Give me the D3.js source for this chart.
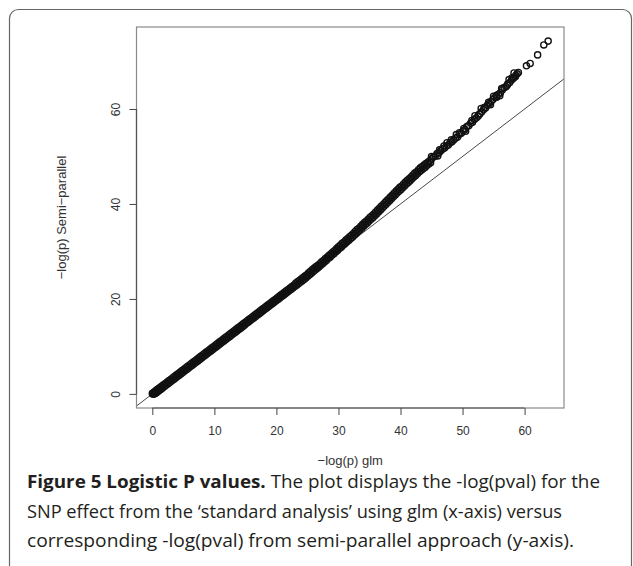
<!DOCTYPE html>
<html><head><meta charset="utf-8">
<script src="https://cdn.jsdelivr.net/npm/d3@7"></script>
<style>body{margin:0;background:#fff}svg{display:block}</style>
</head><body>
<svg id="c" width="633" height="566"></svg>
<script>
// -log(p) from glm (x) and semi-parallel approach (y)
const glm = [
 0,0.1,0.2,0.35,0.5,0.7,0.9,1.1,1.3,1.5,1.8,2.1,2.4,2.7,3.0,3.3,3.6,3.9,4.2,4.5,4.8,5.1,5.4,5.7,6.0,6.3,6.6,6.9,
 7.2,7.5,7.8,8.1,8.4,8.7,9.0,9.3,9.6,9.9,10.2,10.5,10.8,11.1,11.4,11.7,12.0,12.3,12.6,12.9,13.2,13.5,13.8,14.1,
 14.4,14.7,15.0,15.3,15.6,15.9,16.2,16.5,16.8,17.1,17.4,17.7,18.0,18.3,18.6,18.9,19.2,19.5,19.8,20.1,20.4,20.7,
 21.0,21.3,21.6,21.9,22.2,22.5,22.8,23.1,23.4,23.7,24.0,24.3,24.6,24.9,
 25.2,25.5,25.8,26.1,26.4,26.7,27.0,27.3,27.6,27.9,28.2,28.5,28.8,29.1,29.4,29.7,30.0,30.3,30.6,30.9,31.2,31.5,
 31.8,32.1,32.4,32.7,33.0,33.3,33.6,33.9,34.2,34.5,34.8,35.1,35.4,35.7,36.0,36.3,36.6,36.9,37.2,37.5,37.8,38.1,
 38.4,38.7,39.0,39.3,39.6,39.9,40.2,40.5,40.8,41.1,41.4,41.7,42.0,42.3,42.6,42.9,43.2,43.5,43.8,44.1,44.4,44.7,45.0,
 45.3,45.6,45.9,46.2,46.5,46.8,47.1,47.4,47.7,48.0,48.3,48.6,48.9,49.2,49.5,49.8,50.1,50.4,50.7,51.0,51.3,51.6,
 51.9,52.2,52.5,52.8,53.1,53.4,53.7,54.0,54.3,54.6,54.9,55.2,55.5,55.8,56.1,56.4,56.7,57.0,57.3,57.6,57.9,58.2,
 58.5,58.8,59.0,
 53.0,54.5,55.0,56.0,57.5,58.3,52.0,50.5,49.0,47.5,46.0,
 45.0,46.3,47.0,48.2,49.5,50.2,51.5,52.7,53.5,54.2,55.5,56.3,57.2,58.0,58.6,
 60.3,60.9,62.1,63.1,63.8,
 0.05,0.15,0.3,0.45,0.6,0.8,1.0,1.2,1.4,1.65,1.95,2.25,2.55,2.85,3.15,3.45,3.75,4.05,4.35,4.65,4.95,5.25,5.55,5.85,
 6.15,6.45,6.75,7.05,7.35,7.65,7.95,8.25,8.55,8.85,9.15,9.45,9.75,10.05,10.35,10.65,10.95,11.25,11.55,11.85,12.15,
 12.45,12.75,13.05,13.35,13.65,13.95,14.25,14.55,14.85,15.15,15.45,15.75,16.05,16.35,16.65,16.95,17.25,17.55,17.85,
 18.15,18.45,18.75,19.05,19.35,19.65,19.95,20.25,20.55,20.85,21.15,21.45,21.75,22.05,22.35,22.65,22.95,23.25,23.55,
 23.85,24.15,24.45,24.75,25.05,25.35,25.65,25.95,26.25,26.55,26.85,27.15,27.45,27.75,28.05,28.35,28.65,28.95,29.25,
 29.55,29.85,30.15,30.45,30.75,31.05,31.35,31.65,31.95,32.25,32.55,32.85,33.15,33.45,33.75,34.05,34.35,34.65,34.95,
 35.25,35.55,35.85,36.15,36.45,36.75,37.05,37.35,37.65,37.95,38.25,38.55,38.85,39.15,39.45,39.75,40.05,40.35,40.65,
 40.95,41.25,41.55,41.85,42.15,42.45,42.75,43.05,43.35,43.65,43.95,44.25,44.55,44.85
];
const semi = [
 0.1,0.2,0.3,0.4,0.6,0.8,1.0,1.2,1.4,1.6,1.9,2.2,2.5,2.8,3.1,3.4,3.7,4.0,4.3,4.6,4.9,5.2,5.5,5.8,6.1,6.4,6.7,7.0,
 7.3,7.6,7.9,8.2,8.5,8.8,9.1,9.4,9.7,10.0,10.3,10.6,10.9,11.2,11.5,11.8,12.1,12.4,12.7,13.0,13.3,13.6,13.9,14.2,
 14.5,14.8,15.1,15.4,15.7,16.0,16.3,16.6,16.9,17.2,17.5,17.8,18.1,18.4,18.7,19.0,19.3,19.6,19.9,20.2,20.5,20.8,
 21.1,21.4,21.7,22.0,22.3,22.6,22.9,23.3,23.6,23.9,24.2,24.5,24.8,25.1,
 25.5,25.8,26.2,26.5,26.8,27.1,27.4,27.8,28.1,28.5,28.8,29.2,29.5,29.9,30.2,30.6,31.0,31.3,31.7,32.0,32.4,32.7,
 33.1,33.4,33.8,34.2,34.6,34.9,35.3,35.7,36.1,36.4,36.8,37.2,37.5,37.9,38.3,38.7,39.1,39.5,39.9,40.3,40.7,41.1,
 41.5,41.9,42.3,42.7,43.1,43.5,43.8,44.2,44.6,45.0,45.3,45.7,46.1,46.5,46.8,47.2,47.6,47.9,48.2,48.5,48.8,49.1,49.5,
 49.9,50.1,50.6,50.8,51.2,51.6,51.8,52.2,52.4,52.9,53.1,53.5,53.9,54.1,54.7,54.9,55.4,55.7,56.3,56.5,57.0,57.2,
 57.8,58.1,58.5,59.0,59.4,59.9,60.2,60.8,61.1,61.6,62.0,62.4,62.9,63.1,63.4,64.0,64.5,64.7,65.3,65.6,66.1,66.5,
 66.8,67.4,67.7,
 60.1,60.9,62.7,62.8,66.2,67.6,58.6,55.3,54.6,52.9,50.1,
 50.0,51.4,52.2,53.5,55.0,55.9,57.6,58.9,60.3,61.4,62.5,64.3,65.0,66.6,67.1,
 69.1,69.6,71.4,73.5,74.3,
 0.0,0.0,0.0,0.1,0.2,0.4,0.6,0.8,1.0,1.25,1.55,1.85,2.15,2.45,2.75,3.05,3.35,3.65,3.95,4.25,4.55,4.85,5.15,5.45,
 5.75,6.05,6.35,6.65,6.95,7.25,7.55,7.85,8.15,8.45,8.75,9.05,9.35,9.65,9.95,10.25,10.55,10.85,11.15,11.45,11.75,
 12.05,12.35,12.65,12.95,13.25,13.55,13.85,14.15,14.45,14.8,15.1,15.4,15.7,16.0,16.3,16.6,16.9,17.2,17.5,
 17.8,18.1,18.4,18.7,19.0,19.3,19.6,19.9,20.2,20.5,20.8,21.1,21.4,21.7,22.0,22.3,22.6,22.9,23.2,
 23.5,23.8,24.1,24.4,24.8,25.1,25.4,25.8,26.1,26.4,26.7,27.1,27.4,27.8,28.1,28.5,28.8,29.2,29.5,
 29.9,30.2,30.6,30.9,31.3,31.6,32.0,32.3,32.7,33.0,33.4,33.8,34.2,34.5,34.9,35.3,35.7,36.0,36.4,
 36.8,37.1,37.5,37.9,38.3,38.7,39.1,39.5,39.9,40.3,40.7,41.1,41.5,41.9,42.3,42.7,43.0,43.4,43.8,
 44.2,44.5,44.9,45.3,45.7,46.0,46.4,46.8,47.1,47.4,47.7,48.1,48.4,48.7
];
const xTicks = [0,10,20,30,40,50,60];
const yTicks = [0,20,40,60];
const xTitle = "\u2212log(p) glm";
const yTitle = "\u2212log(p) Semi\u2212parallel";
const caption = [
  [{b:true,t:"Figure 5 Logistic P values."},{b:false,t:" The plot displays the -log(pval) for the"}],
  [{b:false,t:"SNP effect from the \u2018standard analysis\u2019 using glm (x-axis) versus"}],
  [{b:false,t:"corresponding -log(pval) from semi-parallel approach (y-axis)."}]
];
const captionWidth = [573, 535, 547];

const svg = d3.select("#c");
const L = 136.5, R = 564, T = 27, B = 408;
const FONT = "Liberation Sans, Arial, sans-serif";

// outer rounded frame
svg.append("rect").attr("x",9.5).attr("y",9.5).attr("width",622).attr("height",620)
  .attr("rx",9).attr("fill","none").attr("stroke","#666").attr("stroke-width",1.2);

const pts = glm.map((g,i)=>({x:g,y:semi[i]}));
const xe = d3.extent(glm), ye = d3.extent(semi);
const px = (xe[1]-xe[0])*0.04, py = (ye[1]-ye[0])*0.04;
const x = d3.scaleLinear().domain([xe[0]-px, xe[1]+px]).range([L,R]);
const y = d3.scaleLinear().domain([ye[0]-py, ye[1]+py]).range([B,T]);

svg.append("clipPath").attr("id","clip").append("rect")
  .attr("x",L).attr("y",T).attr("width",R-L).attr("height",B-T);

// y = x reference line
const d0 = Math.max(x.domain()[0], y.domain()[0]);
const d1 = Math.min(x.domain()[1], y.domain()[1]);
svg.append("line").attr("clip-path","url(#clip)")
  .attr("x1",x(d0)).attr("y1",y(d0)).attr("x2",x(d1)).attr("y2",y(d1))
  .attr("stroke","#333").attr("stroke-width",0.9);

svg.append("g").attr("clip-path","url(#clip)").selectAll("circle").data(pts).join("circle")
  .attr("cx",d=>x(d.x)).attr("cy",d=>y(d.y)).attr("r",3.1)
  .attr("fill","none").attr("stroke","#111").attr("stroke-width",1.35);

// plot box
svg.append("rect").attr("x",L).attr("y",T).attr("width",R-L).attr("height",B-T)
  .attr("fill","none").attr("stroke","#8a8a8a").attr("stroke-width",1.2);

// axes
const xa = d3.axisBottom(x).tickValues(xTicks).tickSize(7).tickPadding(11).tickFormat(d3.format("d"));
const gx = svg.append("g").attr("transform",`translate(0,${B})`).call(xa);
gx.select(".domain").attr("d",`M${x(0)},0H${x(60)}`).attr("stroke","#555").attr("stroke-width",1.2);
gx.selectAll(".tick line").attr("stroke","#444");
gx.selectAll("text").attr("font-family",FONT).attr("font-size",12).attr("fill","#333");

const ya = d3.axisLeft(y).tickValues(yTicks).tickSize(7).tickPadding(5).tickFormat(d3.format("d"));
const gy = svg.append("g").attr("transform",`translate(${L},0)`).call(ya);
gy.select(".domain").attr("d",`M0,${y(0)}V${y(60)}`).attr("stroke","#555").attr("stroke-width",1.2);
gy.selectAll(".tick line").attr("stroke","#444");
gy.selectAll(".tick text").attr("font-family",FONT).attr("font-size",12).attr("fill","#333")
  .attr("text-anchor","middle").attr("transform","rotate(-90)").attr("x",0).attr("dy","0").attr("y",-17);

svg.append("text").attr("x",(L+R)/2).attr("y",465).attr("text-anchor","middle")
  .attr("font-family",FONT).attr("font-size",13).attr("fill","#333").text(xTitle);
svg.append("text").attr("transform",`translate(66,${(T+B)/2}) rotate(-90)`).attr("text-anchor","middle")
  .attr("font-family",FONT).attr("font-size",13).attr("fill","#333").text(yTitle);

// caption
const lineY = [488, 518, 547];
caption.forEach((line,i)=>{
  const t = svg.append("text").attr("x",27).attr("y",lineY[i])
    .attr("font-family","Open Sans, Noto Sans, sans-serif").attr("font-size",18.5).attr("fill","#231f20")
    .attr("textLength",captionWidth[i]).attr("lengthAdjust","spacingAndGlyphs");
  line.forEach(s=>t.append("tspan").attr("font-weight",s.b?"bold":"normal").text(s.t));
});
</script>
</body></html>
